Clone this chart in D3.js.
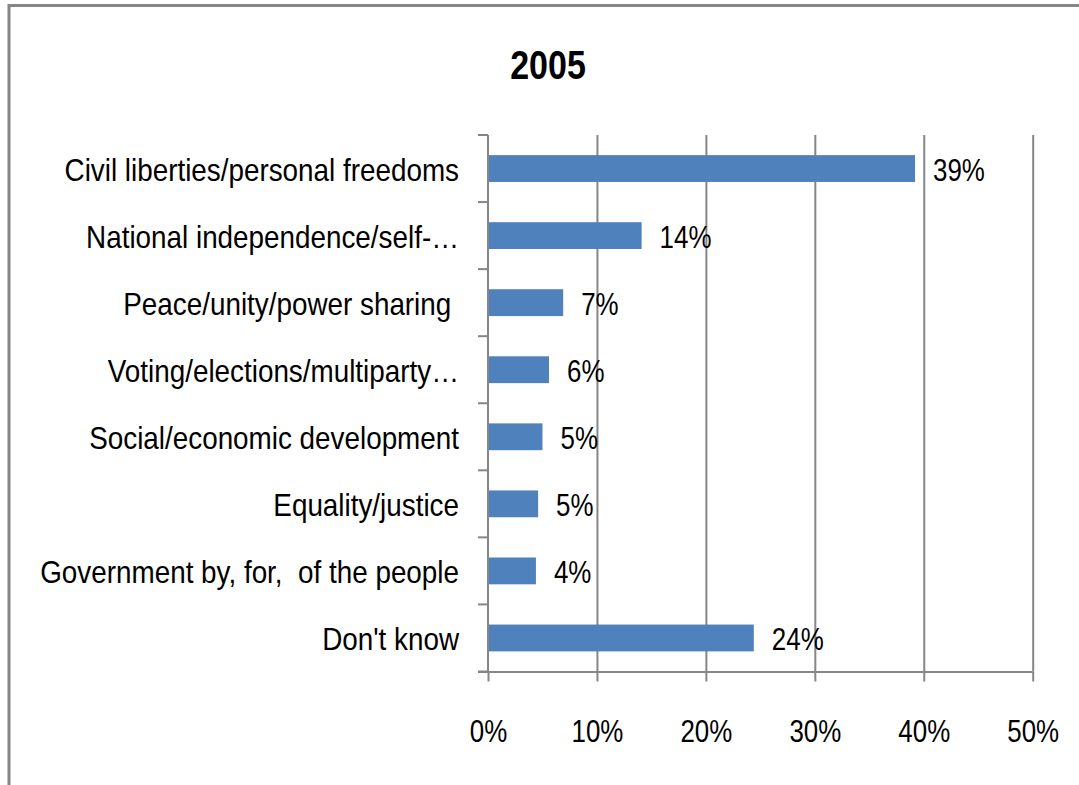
<!DOCTYPE html>
<html>
<head>
<meta charset="utf-8">
<script src="https://cdn.jsdelivr.net/npm/d3@7/dist/d3.min.js"></script>
<style>
  html, body { margin: 0; padding: 0; background: #fff; }
  svg { display: block; }
  text { font-family: "Liberation Sans", Arial, sans-serif; fill: #000; white-space: pre; }
</style>
</head>
<body>
<svg id="chart" width="1079" height="785"></svg>
<script>
const title = "2005";
const categories = [
  "Civil liberties/personal freedoms",
  "National independence/self-\u2026",
  "Peace/unity/power sharing ",
  "Voting/elections/multiparty\u2026",
  "Social/economic development",
  "Equality/justice",
  "Government by, for,  of the people",
  "Don't know"
];
const values = [39.2, 14.1, 6.9, 5.6, 5.0, 4.6, 4.4, 24.4];
const valueLabels = ["39%", "14%", "7%", "6%", "5%", "5%", "4%", "24%"];
const xTicks = [0, 10, 20, 30, 40, 50];
const xTickLabels = ["0%", "10%", "20%", "30%", "40%", "50%"];

(function () {
const svg = d3.select("#chart");
const gray = "#868686";
const fs = 32;          // font size (vertical)
const sxCat = 0.87;     // horizontal condensation of category labels
const sxNum = 0.81;     // horizontal condensation of numeric labels

// frame (top and left edges visible)
svg.append("line").attr("x1", 9).attr("x2", 1079).attr("y1", 5.5).attr("y2", 5.5)
  .attr("stroke", gray).attr("stroke-width", 3);
svg.append("line").attr("x1", 9).attr("x2", 9).attr("y1", 4).attr("y2", 785)
  .attr("stroke", gray).attr("stroke-width", 3);

const pL = 488, pR = 1032.7, pT = 135, pB = 671.5;
const x = d3.scaleLinear().domain([0, 50]).range([pL, pR]);
const y = d3.scaleBand().domain(categories).range([pT, pB]).paddingInner(0.6).paddingOuter(0.3);

// title
svg.append("text").attr("transform", "translate(548,79) scale(0.85,1)").attr("text-anchor", "middle")
  .style("font-size", "40px").style("font-weight", "bold").text(title);

// gridlines
const grid = svg.append("g").attr("transform", `translate(0,${pB})`)
  .call(d3.axisBottom(x).tickValues(xTicks.slice(1)).tickSize(-(pB - pT)).tickFormat(""));
grid.select(".domain").remove();
grid.selectAll(".tick line").attr("stroke", gray).attr("stroke-width", 2);

// x axis
const xa = svg.append("g").attr("transform", `translate(0,${pB})`)
  .call(d3.axisBottom(x).tickValues(xTicks).tickSize(10).tickSizeOuter(0)
    .tickFormat((d, i) => xTickLabels[i]));
xa.select(".domain").attr("stroke", gray).attr("stroke-width", 2).attr("d", `M${pL - 10},0.5H${pR}`);
xa.selectAll(".tick line").attr("stroke", gray).attr("stroke-width", 2);
xa.selectAll(".tick text").attr("y", 0).attr("dy", 0)
  .attr("transform", `translate(0,70.5) scale(${sxNum},1)`)
  .style("font-size", fs + "px").attr("fill", "#000");

// y axis line and boundary ticks
const boundaryY = categories.map((c, i) => pT + i * (pB - pT) / categories.length).concat([pB]);
svg.append("line").attr("x1", pL).attr("x2", pL).attr("y1", pT).attr("y2", pB)
  .attr("stroke", gray).attr("stroke-width", 2);
svg.append("g").selectAll("line").data(boundaryY).join("line")
  .attr("x1", pL - 10).attr("x2", pL).attr("y1", d => d).attr("y2", d => d)
  .attr("stroke", gray).attr("stroke-width", 2);

// bars
svg.append("g").selectAll("rect").data(categories).join("rect")
  .attr("x", x(0) + 1).attr("y", d => y(d))
  .attr("width", (d, i) => x(values[i]) - x(0) - 1)
  .attr("height", y.bandwidth())
  .attr("fill", "#4f81bd");

// category labels
svg.append("g").selectAll("text").data(categories).join("text")
  .attr("transform", d => `translate(459,${y(d) + y.bandwidth() / 2 + 12}) scale(${sxCat},1)`)
  .attr("text-anchor", "end").style("font-size", fs + "px").text(d => d);

// value labels
svg.append("g").selectAll("text").data(categories).join("text")
  .attr("transform", (d, i) => `translate(${x(values[i]) + 18},${y(d) + y.bandwidth() / 2 + 12.5}) scale(${sxNum},1)`)
  .style("font-size", fs + "px").text((d, i) => valueLabels[i]);
})();
</script>
</body>
</html>
